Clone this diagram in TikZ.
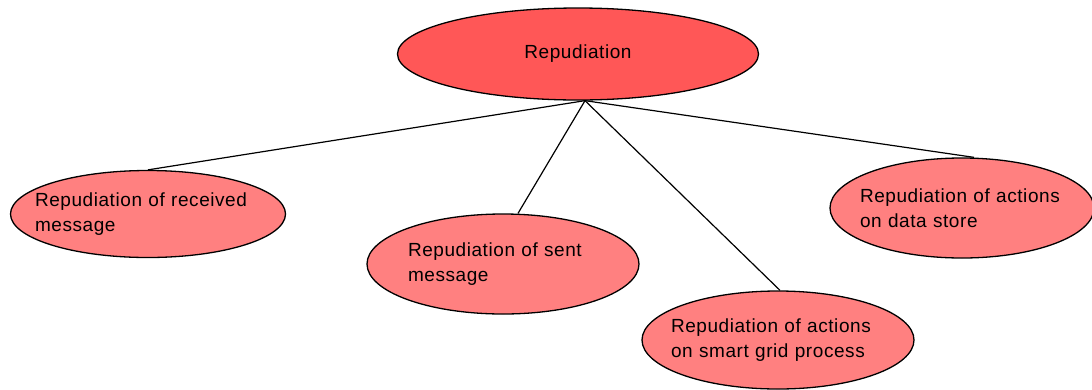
\documentclass[tikz,border=0pt]{standalone}
\usepackage{fontspec}
\setmainfont{Liberation Sans}[LetterSpace=3]
\usepackage{xcolor}
\usetikzlibrary{shapes.geometric}
\definecolor{rootred}{HTML}{FF5757}
\definecolor{leafred}{HTML}{FF8080}

\begin{document}
\begin{tikzpicture}[
  x=1pt, y=-1pt,
  every node/.style={font=\fontsize{19}{25}\selectfont},
  r/.style={draw,ellipse,line width=1.3pt,fill=rootred,inner sep=0pt,
            minimum width=361pt,minimum height=92pt},
  t/.style={draw,ellipse,line width=1.3pt,fill=leafred,inner ysep=0pt,inner xsep=-30pt,
            minimum width=272pt,minimum height=100pt,align=left,text width=210pt},
  e/.style={line width=1.2pt,black}
]
\useasboundingbox (0,0) rectangle (1092,389);
\node[r] (root) at (578,54) {Repudiation};
\node[t,minimum height=87pt,minimum width=275pt,text width=226pt] (recv) at (148,214) {Repudiation of received\\message};
\node[t,text width=190pt] (sent) at (503,264) {Repudiation of sent\\message};
\node[t,minimum height=98pt,text width=214pt] (grid) at (778,340) {Repudiation of actions\\on smart grid process};
\node[t,minimum width=264pt,text width=204pt] (store) at (962,208) {Repudiation of actions\\on data store};
\coordinate (hub) at ([xshift=7pt]root.south);
\draw[e] (hub) -- (recv.north);
\draw[e] (hub) -- ([xshift=15pt]sent.north);
\draw[e] (hub) -- ([xshift=2pt]grid.north);
\draw[e] (hub) -- ([xshift=12pt]store.north);
\end{tikzpicture}
\end{document}
